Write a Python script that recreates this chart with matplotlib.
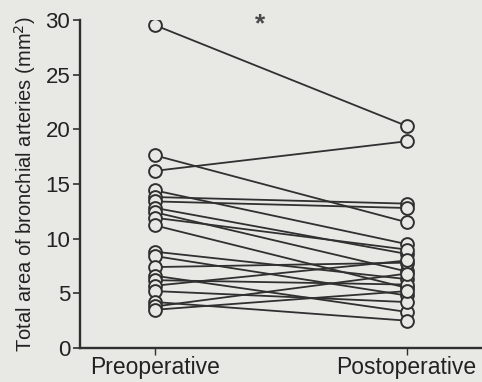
import matplotlib
matplotlib.use("Agg")
import matplotlib.pyplot as plt

# Paired measurements: total bronchial artery area (mm^2) per patient
categories = ["Preoperative", "Postoperative"]
preoperative = [29.5, 17.6, 16.2, 14.4, 13.8, 13.4, 12.8, 12.4, 11.9, 11.2,
                8.8, 8.4, 7.4, 6.6, 6.2, 5.7, 5.2, 4.2, 3.8, 3.5]
postoperative = [20.3, 11.5, 18.9, 9.5, 13.2, 12.8, 8.6, 7.0, 9.0, 5.5,
                 6.3, 4.8, 7.8, 3.3, 5.8, 8.0, 4.2, 2.5, 6.8, 5.2]
y_ticks = [0, 5, 10, 15, 20, 25, 30]

bg = "#e8e8e5"
ink = "#303030"

plt.rcParams["font.family"] = ["Liberation Sans", "DejaVu Sans"]

fig = plt.figure(figsize=(4.82, 3.82), dpi=100, facecolor=bg)
ax = fig.add_axes([0.166, 0.089, 0.834, 0.859], facecolor=bg)

for pre, post in zip(preoperative, postoperative):
    ax.plot([0, 1], [pre, post], color=ink, lw=1.3, zorder=2,
            marker="o", markersize=9.2, markerfacecolor=bg,
            markeredgecolor=ink, markeredgewidth=1.4)

ax.text(0.417, 29.6, "*", ha="center", va="center", fontsize=19,
        color="#4a4a4a", fontweight="bold")

ax.set_xlim(-0.3, 1.3)
ax.set_ylim(0, 30)
ax.set_xticks([0, 1])
ax.set_xticklabels(categories, fontsize=16.5, color="#222222")
ax.set_yticks(y_ticks)
ax.set_yticklabels([str(v) for v in y_ticks], fontsize=16, color="#222222")
ax.set_ylabel("Total area of bronchial arteries (mm$^2$)", fontsize=14.5,
              color="#222222", labelpad=5)

for side in ("top", "right"):
    ax.spines[side].set_visible(False)
for side in ("left", "bottom"):
    ax.spines[side].set_color(ink)
    ax.spines[side].set_linewidth(1.7)
ax.tick_params(axis="y", direction="out", length=5, width=1.2, color=ink, pad=2)
ax.tick_params(axis="x", direction="out", length=5, width=1.0, color=ink, pad=1)

fig.savefig("out.png", dpi=100, facecolor=bg)
